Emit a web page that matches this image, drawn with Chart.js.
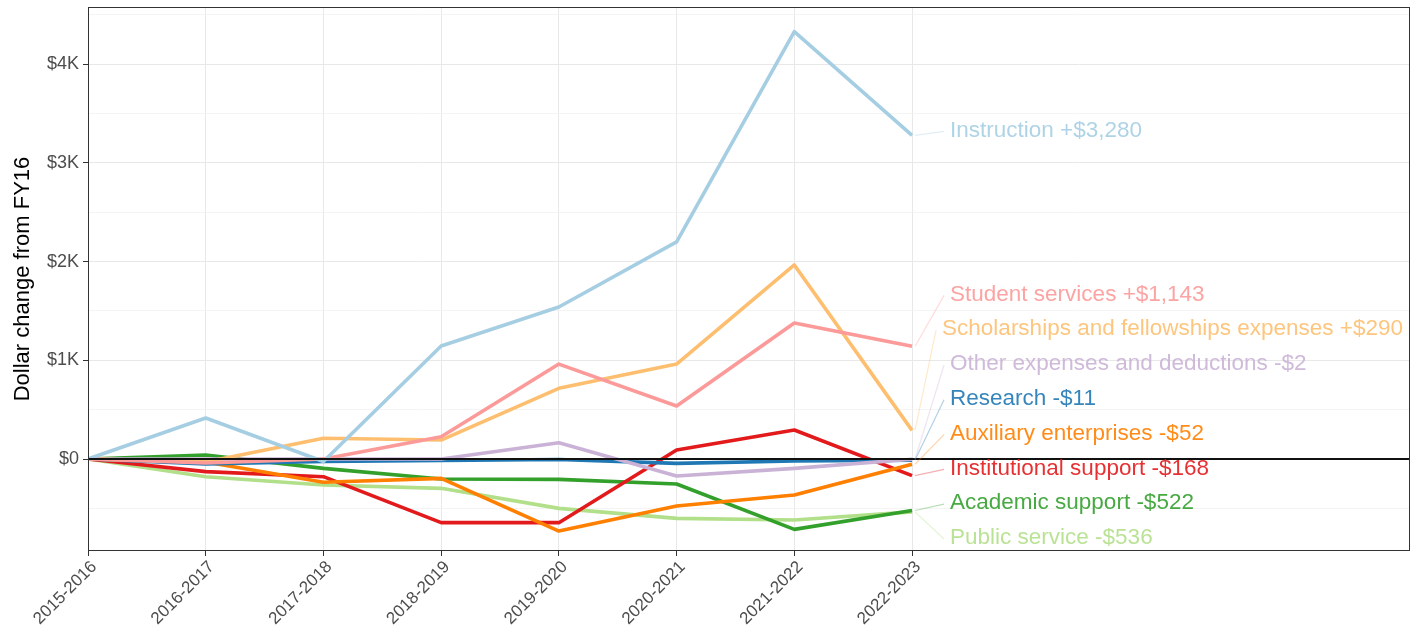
<!DOCTYPE html>
<html lang="en">
<head>
  <meta charset="UTF-8">
  <title>Dollar change from FY16</title>
  <script src="https://cdn.jsdelivr.net/npm/chart.js"></script>
  <style>
    html, body {
      margin: 0;
      padding: 0;
      background: #ffffff;
    }

    #chart-container {
      width: 1418px;
      height: 633px;
    }
  </style>
</head>
<body>

<div id="chart-container">
  <canvas id="spendChart" width="1418" height="633"></canvas>
</div>

<script>
  // Fiscal years on the x axis
  const years = ["2015-2016", "2016-2017", "2017-2018", "2018-2019",
                 "2019-2020", "2020-2021", "2021-2022", "2022-2023"];

  // Dollar change from FY16, one array per expense category
  const instruction   = [0, 415, -25, 1145, 1540, 2200, 4330, 3280];
  const studentSvc    = [0, -40, 0, 226, 962, 537, 1378, 1143];
  const scholarships  = [0, -30, 210, 192, 716, 962, 1966, 290];
  const otherExp      = [0, 0, 0, 0, 165, -172, -95, -2];
  const research      = [0, -50, -25, -15, -5, -44, -20, -11];
  const auxiliary     = [0, -30, -235, -196, -730, -476, -365, -52];
  const institutional = [0, -128, -179, -645, -645, 91, 294, -168];
  const academic      = [0, 40, -95, -203, -206, -253, -713, -522];
  const publicSvc     = [0, -179, -263, -297, -500, -601, -618, -536];

  const seriesNames = ["Instruction", "Student services", "Scholarships and fellowships expenses",
                       "Other expenses and deductions", "Research", "Auxiliary enterprises",
                       "Institutional support", "Academic support", "Public service"];
  const seriesValues = [instruction, studentSvc, scholarships, otherExp, research,
                        auxiliary, institutional, academic, publicSvc];
  const seriesColors = ['#A6CEE3', '#FB9A99', '#FDBF6F', '#CAB2D6', '#1F78B4',
                        '#FF7F00', '#E31A1C', '#33A02C', '#B2DF8A'];

  // y breaks every $500, labels only on whole thousands
  const yBreaks = [-500, 0, 500, 1000, 1500, 2000, 2500, 3000, 3500, 4000, 4500];

  const FONT = '"Liberation Sans", Arial, sans-serif';

  function kLabel(v) {
    if (v === 0) return '$0';
    return '$' + (v / 1000) + 'K';
  }

  function endLabel(name, v) {
    const sign = v >= 0 ? '+' : '-';
    return name + ' ' + sign + '$' + Math.abs(v).toLocaleString('en-US');
  }

  const datasets = seriesNames.map((name, i) => ({
    label: name,
    data: seriesValues[i].map((v, j) => ({ x: j, y: v })),
    borderColor: seriesColors[i],
    backgroundColor: seriesColors[i],
    borderWidth: 3.6,
    pointRadius: 0,
    tension: 0,
    borderJoinStyle: 'round',
    fill: false
  }));

  // zero reference line, panel border and repelled end labels
  const decorations = {
    id: 'decorations',
    afterDatasetsDraw(chart) {
      const { ctx, chartArea, scales } = chart;
      const x = scales.x, y = scales.y;

      // black line at $0
      const y0 = y.getPixelForValue(0);
      ctx.save();
      ctx.strokeStyle = '#111';
      ctx.lineWidth = 2;
      ctx.beginPath();
      ctx.moveTo(chartArea.left, y0);
      ctx.lineTo(chartArea.right, y0);
      ctx.stroke();

      // end labels: sort by final value, push apart, keep inside the panel
      const last = years.length - 1;
      const xEnd = x.getPixelForValue(last);
      const items = seriesNames.map((name, i) => {
        const v = seriesValues[i][last];
        return { name, v, color: seriesColors[i], py: y.getPixelForValue(v) };
      }).sort((a, b) => b.v - a.v);

      const gap = 34.8;
      const topLim = chartArea.top + 13;
      const botLim = chartArea.bottom - 13;
      items.forEach((it, k) => {
        it.ly = Math.max(it.py - 5, topLim);
        if (k > 0) it.ly = Math.max(it.ly, items[k - 1].ly + gap);
      });
      for (let k = items.length - 1; k >= 0; k--) {
        if (k === items.length - 1) items[k].ly = Math.min(items[k].ly, botLim);
        else items[k].ly = Math.min(items[k].ly, items[k + 1].ly - gap);
      }

      const textX = xEnd + 38;
      ctx.font = '22.5px ' + FONT;
      ctx.textAlign = 'left';
      ctx.textBaseline = 'middle';
      items.forEach(it => {
        const text = endLabel(it.name, it.v);
        // slide long labels left so they stay inside the panel
        const w = ctx.measureText(text).width;
        const tx = Math.min(textX, chartArea.right - 7 - w);
        ctx.globalAlpha = 0.35;
        ctx.strokeStyle = it.color;
        ctx.lineWidth = 1.2;
        ctx.beginPath();
        ctx.moveTo(xEnd + 3, it.py);
        ctx.lineTo(tx - 6, it.ly + 1);
        ctx.stroke();
        ctx.globalAlpha = 0.9;
        ctx.fillStyle = it.color;
        ctx.fillText(text, tx, it.ly);
      });
      ctx.globalAlpha = 1;

      // panel border
      ctx.strokeStyle = '#333';
      ctx.lineWidth = 1;
      ctx.strokeRect(chartArea.left + 0.5, chartArea.top + 0.5,
                     chartArea.width - 1, chartArea.height - 1);
      ctx.restore();
    }
  };

  const ctx = document.getElementById('spendChart').getContext('2d');
  new Chart(ctx, {
    type: 'line',
    data: { datasets: datasets },
    options: {
      responsive: false,
      animation: false,
      devicePixelRatio: 1,
      layout: { padding: { left: 0, top: 7, right: 8, bottom: 0 } },
      plugins: {
        legend: { display: false },
        tooltip: { enabled: false }
      },
      scales: {
        x: {
          type: 'linear',
          min: 0,
          max: 11.23,
          afterBuildTicks: s => { s.ticks = years.map((_, i) => ({ value: i })); },
          afterFit: s => {
            s.height = 82;
            s.paddingLeft = 0;
            s.paddingRight = 0;
          },
          ticks: {
            autoSkip: false,
            maxRotation: 45,
            minRotation: 45,
            padding: 1,
            labelOffset: 6,
            color: '#4d4d4d',
            font: { family: FONT, size: 17 },
            callback: (v, i) => years[i]
          },
          grid: {
            color: '#e8e8e8',
            lineWidth: 1,
            tickLength: 5,
            tickColor: '#333'
          },
          border: { display: false }
        },
        y: {
          min: -932,
          max: 4580,
          afterBuildTicks: s => { s.ticks = yBreaks.map(v => ({ value: v })); },
          afterFit: s => {
            s.width = 88;
            s.paddingTop = 0;
            s.paddingBottom = 0;
          },
          title: {
            display: true,
            text: 'Dollar change from FY16',
            color: '#000',
            font: { family: FONT, size: 22 },
            padding: { top: 10, bottom: 4 }
          },
          ticks: {
            padding: 4,
            color: '#4d4d4d',
            font: { family: FONT, size: 18 },
            callback: v => (v % 1000 === 0 ? kLabel(v) : '')
          },
          grid: {
            color: c => (c.tick && c.tick.value % 1000 === 0 ? '#e8e8e8' : '#f1f1f1'),
            lineWidth: c => (c.tick && c.tick.value % 1000 === 0 ? 1 : 0.8),
            tickLength: 5,
            tickColor: c => (c.tick && c.tick.value % 1000 === 0 ? '#333' : 'rgba(0,0,0,0)')
          },
          border: { display: false }
        }
      }
    },
    plugins: [decorations]
  });
</script>
</body>
</html>
